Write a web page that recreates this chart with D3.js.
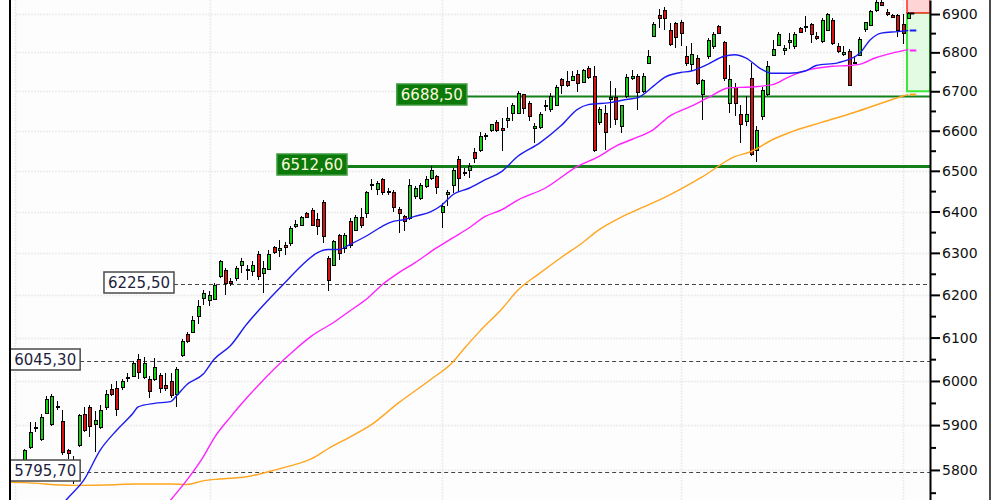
<!DOCTYPE html>
<html><head><meta charset="utf-8">
<script src="https://cdn.jsdelivr.net/npm/d3@7/dist/d3.min.js"></script>
<style>body{margin:0;background:#fff}svg{display:block}</style>
</head><body>
<svg id="c" width="1000" height="500"></svg>
<script>
// ---- data ----
const open  = [5823,5851,5894,5869,5927,5902,5944,5910,5844,5817,5855,5924,5941,5902,5895,5940,5982,5984,5987,6007,6012,6050,6008,6004,6004,6013,5990,6000,5971,6059,6108,6113,6150,6192,6188,6190,6244,6260,6234,6240,6270,6258,6256,6298,6252,6262,6314,6308,6318,6324,6366,6368,6397,6404,6382,6424,6288,6272,6342,6312,6376,6356,6386,6396,6464,6456,6480,6450,6447,6406,6390,6384,6437,6433,6463,6482,6488,6398,6443,6466,6529,6494,6502,6548,6552,6586,6601,6621,6607,6628,6645,6645,6692,6671,6607,6610,6662,6654,6666,6732,6726,6730,6745,6723,6760,6740,6621,6645,6680,6686,6612,6687,6735,6740,6700,6773,6843,6897,6910,6859,6876,6880,6790,6769,6786,6694,6790,6816,6869,6826,6669,6711,6641,6624,6734,6553,6638,6692,6792,6820,6807,6827,6816,6863,6865,6874,6842,6829,6859,6885,6816,6796,6803,6776,6794,6861,6872,6910,6932,6905,6897,6897,6874,6889];
const high  = [5847,5906,5906,5924,5965,5971,5955,5935,5847,5830,5926,5941,5946,5932,5945,5980,5992,6000,6005,6019,6046,6061,6054,6012,6052,6018,6018,6019,6031,6096,6112,6150,6188,6212,6208,6228,6284,6264,6240,6268,6288,6272,6280,6304,6280,6306,6317,6330,6326,6364,6380,6390,6400,6408,6396,6428,6292,6332,6346,6348,6384,6392,6408,6449,6480,6474,6482,6458,6453,6411,6392,6480,6463,6470,6486,6511,6490,6422,6453,6507,6536,6507,6519,6557,6596,6594,6618,6626,6632,6659,6671,6700,6694,6675,6620,6647,6679,6696,6717,6734,6752,6752,6754,6756,6764,6764,6660,6664,6725,6709,6666,6743,6754,6743,6747,6807,6878,6912,6919,6876,6880,6885,6816,6824,6792,6732,6837,6854,6872,6829,6768,6721,6666,6687,6773,6613,6711,6777,6833,6852,6820,6850,6852,6866,6895,6876,6854,6889,6902,6889,6824,6816,6809,6790,6840,6880,6910,6936,6936,6912,6900,6900,6900,6906];
const low   = [5820,5847,5884,5864,5924,5898,5934,5833,5825,5768,5851,5884,5873,5840,5892,5935,5965,5920,5980,5998,6008,6004,6004,5961,6000,5973,5977,5961,5941,6056,6088,6110,6131,6177,6173,6187,6240,6200,6220,6232,6252,6236,6244,6236,6204,6260,6298,6290,6294,6316,6360,6364,6384,6364,6342,6324,6208,6268,6284,6300,6312,6354,6360,6384,6452,6441,6441,6441,6400,6348,6352,6380,6430,6429,6457,6478,6443,6360,6414,6445,6447,6486,6482,6519,6546,6578,6598,6598,6549,6607,6624,6641,6641,6624,6569,6605,6649,6647,6662,6692,6711,6726,6698,6720,6732,6548,6615,6552,6607,6615,6594,6683,6730,6653,6696,6769,6840,6863,6859,6816,6812,6817,6764,6752,6715,6628,6783,6809,6848,6726,6645,6636,6570,6611,6536,6521,6628,6687,6790,6816,6794,6809,6809,6852,6854,6824,6833,6824,6857,6820,6798,6790,6715,6769,6792,6854,6869,6906,6921,6895,6891,6841,6823,6886];
const close = [5844,5884,5896,5918,5959,5965,5942,5840,5837,5790,5922,5888,5898,5912,5935,5971,5971,5937,6000,6009,6041,6021,6042,5977,6033,5985,5985,5969,6027,6092,6092,6142,6173,6204,6200,6224,6280,6228,6228,6264,6280,6262,6270,6244,6264,6298,6301,6312,6315,6360,6370,6386,6387,6368,6364,6340,6236,6328,6300,6344,6320,6386,6368,6447,6468,6470,6447,6448,6412,6396,6376,6466,6457,6466,6480,6502,6461,6414,6447,6502,6482,6498,6512,6532,6588,6590,6616,6602,6603,6632,6664,6696,6658,6636,6611,6643,6666,6689,6711,6715,6717,6740,6720,6754,6737,6553,6655,6598,6686,6630,6664,6737,6739,6697,6740,6790,6874,6889,6889,6823,6840,6850,6773,6797,6722,6728,6831,6848,6850,6734,6732,6671,6618,6641,6543,6601,6703,6764,6809,6848,6811,6831,6848,6854,6869,6848,6838,6885,6900,6824,6803,6800,6717,6772,6835,6878,6909,6932,6923,6901,6893,6857,6850,6903];

// moving averages (candle index, value)
const maFastAt  = [6,8,11,14,17,20,21,24,27,28,30,33,35,38,41,45,48,51,54,56,58,60,63,66,68,70,72,75,77,79,82,85,88,91,95,99,102,104,108,111,113,116,118,121,123,126,129,131,133,136,138,141,144,146,150,154,156,158,161,163];
const maFast    = [5710,5738,5778,5844,5888,5926,5941,5949,5953,5965,5992,6016,6050,6081,6131,6188,6228,6268,6300,6308,6308,6320,6340,6364,6376,6380,6388,6400,6416,6441,6457,6478,6498,6536,6569,6613,6654,6666,6671,6679,6683,6713,6735,6748,6752,6769,6790,6794,6786,6756,6746,6746,6752,6766,6773,6797,6833,6850,6854,6857];
const maMidAt   = [24,27,30,33,35,38,41,50,53,57,60,63,66,69,72,76,79,82,85,88,91,96,102,106,109,112,116,119,123,126,130,134,138,141,145,149,152,154,157,160,163];
const maMid     = [5690,5734,5778,5829,5871,5918,5961,6073,6104,6135,6162,6189,6224,6252,6276,6312,6336,6360,6388,6404,6428,6457,6511,6536,6561,6578,6603,6637,6662,6683,6709,6711,6717,6737,6756,6764,6766,6769,6786,6798,6807];
const maSlowAt  = [-3,0,9,15,21,27,30,33,36,41,45,49,53,56,60,64,69,75,79,81,84,88,91,95,99,103,106,110,114,118,125,131,134,138,141,147,153,160,163];
const maSlow    = [5773,5772,5766,5767,5769,5769,5768,5776,5780,5785,5796,5809,5825,5847,5873,5901,5950,6004,6043,6073,6115,6166,6211,6251,6289,6325,6356,6386,6410,6434,6485,6535,6548,6578,6595,6621,6646,6679,6692];

// horizontal levels
const levels     = [6688.50, 6512.60, 6225.50, 6045.30, 5795.70];
const levelFrom  = [81.6, 59.5, 27.6, 10.3, 10.3];   // candle index where each level starts
const levelKind  = ["zone", "zone", "mark", "mark", "mark"];

// price target boxes
const targetUp   = [6700, 6903];
const targetDown = [6903, 6960];

// axis ticks
const majorTicks = [5800,5900,6000,6100,6200,6300,6400,6500,6600,6700,6800,6900];
const minorTicks = [5750,5850,5950,6050,6150,6250,6350,6450,6550,6650,6750,6850];
// vertical grid (period boundaries, in candle index units)
const gridAt = [-1.7, 34.3, 77, 121, 162];

// ---- drawing ----
const W = 1000, H = 500, left = 10, axisX = 930, rightEdge = 990;
const n = open.length;
const x = d3.scaleLinear().domain([0, n - 1]).range([24.3, 908.3]);
const y = d3.scaleLog().domain([5734, 6937]).range([H, 0]);
const svg = d3.select("#c");
svg.append("rect").attr("width", W).attr("height", H).attr("fill", "#fff");
svg.append("rect").attr("x", left).attr("width", axisX - left).attr("height", H).attr("fill", "#fdfdfd");
svg.append("defs").append("clipPath").attr("id", "plot")
  .append("rect").attr("x", left).attr("y", 0).attr("width", axisX - left).attr("height", H);
const g = svg.append("g").attr("clip-path", "url(#plot)");

// grid
g.selectAll(".hg").data(majorTicks).join("line")
  .attr("x1", 16).attr("x2", axisX)
  .attr("y1", d => Math.round(y(d)) + 0.5).attr("y2", d => Math.round(y(d)) + 0.5)
  .attr("stroke", "#ececec").attr("stroke-width", 1.5).attr("stroke-dasharray", "2,1");
g.selectAll(".vg").data(gridAt).join("line")
  .attr("x1", d => Math.round(x(d)) + 0.5).attr("x2", d => Math.round(x(d)) + 0.5)
  .attr("y1", 0).attr("y2", H)
  .attr("stroke", "#ececec").attr("stroke-width", 1.5).attr("stroke-dasharray", "2,1");

// target boxes
const bx = Math.round(x(n - 1)) - 1;
g.append("rect").attr("x", bx).attr("y", y(targetUp[1])).attr("width", axisX - bx)
  .attr("height", y(targetUp[0]) - y(targetUp[1]))
  .attr("fill", "#e2fbe2").attr("stroke", "#3ae83a").attr("stroke-width", 2);
g.append("rect").attr("x", bx).attr("y", y(targetDown[1])).attr("width", axisX - bx)
  .attr("height", y(targetDown[0]) - y(targetDown[1]))
  .attr("fill", "#ffd4d4").attr("stroke", "#ff2a2a").attr("stroke-width", 1.5);

// levels (lines)
const fmt = v => d3.format(".2f")(v).replace(".", ",");
levels.forEach((v, i) => {
  const yy = Math.round(y(v)) + 0.5;
  const xr = Math.max(left + 70, x(levelFrom[i]));
  if (levelKind[i] === "zone") {
    g.append("line").attr("x1", xr).attr("x2", axisX).attr("y1", yy).attr("y2", yy)
      .attr("stroke", "#14801a").attr("stroke-width", i === 1 ? 3 : 2);
  } else {
    g.append("line").attr("x1", xr).attr("x2", axisX).attr("y1", yy).attr("y2", yy)
      .attr("stroke", "#444").attr("stroke-width", 1).attr("stroke-dasharray", "4,3");
  }
});

// candles
const data = d3.range(n).map(i => ({ i, o: open[i], h: high[i], l: low[i], c: close[i] }));
const cg = g.append("g").attr("shape-rendering", "crispEdges");
cg.selectAll(".wick").data(data).join("line")
  .attr("x1", d => Math.round(x(d.i)) + 0.5).attr("x2", d => Math.round(x(d.i)) + 0.5)
  .attr("y1", d => y(d.h)).attr("y2", d => y(d.l))
  .attr("stroke", "#000").attr("stroke-width", 1);
cg.selectAll(".body").data(data).join("rect")
  .attr("x", d => Math.round(x(d.i)) - 1)
  .attr("width", 3)
  .attr("y", d => Math.round(y(Math.max(d.o, d.c))) + 0.5)
  .attr("height", d => Math.max(1, Math.round(y(Math.min(d.o, d.c))) - Math.round(y(Math.max(d.o, d.c)))))
  .attr("fill", d => d.c >= d.o ? "#10d010" : "#dd1010")
  .attr("stroke", "#000").attr("stroke-width", 1);

// moving averages
const line = d3.line().x(d => x(d[0])).y(d => y(d[1])).curve(d3.curveMonotoneX);
const maSets = [
  [maSlowAt, maSlow, "#ffa51f"],
  [maMidAt, maMid, "#ff22ff"],
  [maFastAt, maFast, "#1c1cf0"]
];
maSets.forEach(([at, vals, col]) => {
  g.append("path").datum(at.map((k, j) => [k, vals[j]]))
    .attr("d", line).attr("fill", "none").attr("stroke", col).attr("stroke-width", 1.4);
  const yy = Math.round(y(vals[vals.length - 1])) + 0.5;
  g.append("line").attr("x1", x(n - 1) + 1.5).attr("x2", x(n - 1) + 8)
    .attr("y1", yy).attr("y2", yy).attr("stroke", col).attr("stroke-width", 2);
});
// last close marker
{
  const yy = Math.round(y(close[n - 1])) + 0.5;
  g.append("line").attr("x1", x(n - 1) + 1.5).attr("x2", x(n - 1) + 6)
    .attr("y1", yy).attr("y2", yy).attr("stroke", "#000").attr("stroke-width", 2);
}

// level labels
levels.forEach((v, i) => {
  const yy = Math.round(y(v));
  const xr = Math.max(left + 70, x(levelFrom[i]));
  const lg = svg.append("g");
  const zone = levelKind[i] === "zone";
  lg.append("rect").attr("x", xr - 70).attr("y", yy - 12).attr("width", 70).attr("height", 21)
    .attr("fill", zone ? "#0b7a0b" : "#ffffff")
    .attr("stroke", zone ? "#3f9a3f" : "#4a4a4a").attr("stroke-width", 1.5);
  lg.append("text").attr("x", xr - 35).attr("y", yy - 1.5).attr("dy", "0.35em")
    .attr("text-anchor", "middle").attr("font-family", "DejaVu Sans").attr("font-size", 15)
    .attr("fill", zone ? "#fdf8dc" : "#1e1e3c").text(fmt(v));
});

// axis
const axMinor = d3.axisRight(y).tickValues(minorTicks).tickSize(6).tickFormat("").tickSizeOuter(0);
const mg = svg.append("g").attr("transform", `translate(${axisX},0)`).call(axMinor);
mg.select(".domain").remove();
mg.selectAll(".tick line").attr("stroke", "#000").attr("stroke-width", 2);
const ax = d3.axisRight(y).tickValues(majorTicks).tickSize(10).tickPadding(2)
  .tickFormat(d3.format("d")).tickSizeOuter(0);
const ag = svg.append("g").attr("transform", `translate(${axisX},0)`).call(ax);
ag.select(".domain").attr("stroke", "#000").attr("stroke-width", 2);
ag.selectAll(".tick line").attr("stroke", "#000").attr("stroke-width", 2);
ag.selectAll(".tick text").attr("font-family", "DejaVu Sans").attr("font-size", 14).attr("fill", "#111");

// frame
svg.append("line").attr("x1", left).attr("x2", left).attr("y1", 0).attr("y2", H)
  .attr("stroke", "#000").attr("stroke-width", 2);
svg.append("line").attr("x1", rightEdge).attr("x2", rightEdge).attr("y1", 0).attr("y2", H)
  .attr("stroke", "#111").attr("stroke-width", 1.5);
</script>
</body></html>
